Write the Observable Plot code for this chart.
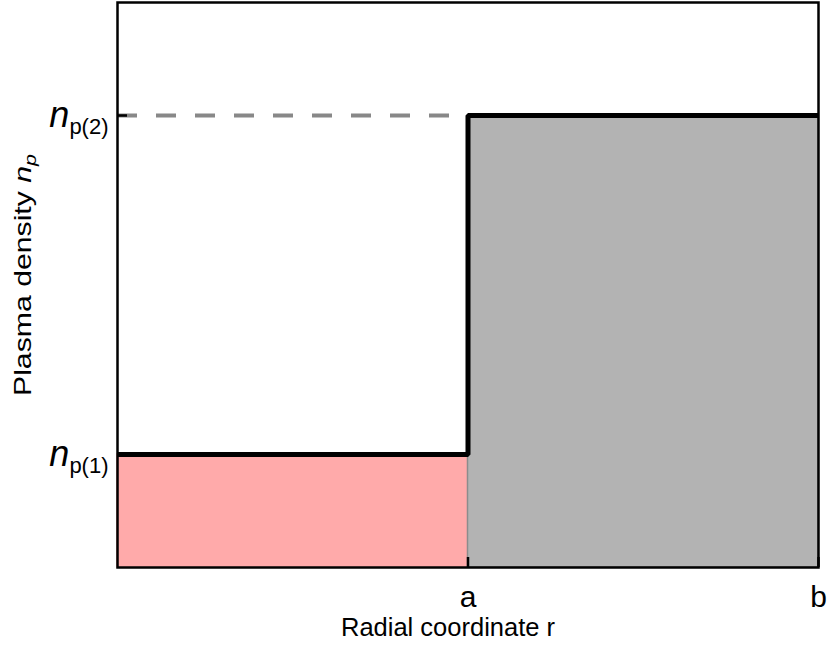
<!DOCTYPE html>
<html>
<head>
<meta charset="utf-8">
<script src="https://cdn.jsdelivr.net/npm/d3@7"></script>
<script src="https://cdn.jsdelivr.net/npm/@observablehq/plot@0.6"></script>
<style>
  html, body { margin: 0; padding: 0; background: white; }
</style>
</head>
<body>
<div id="chart"></div>
<script>
// Data
const regionStart = [0, 0.5];
const regionEnd = [0.5, 1];
const regionDensity = [0.2, 0.8];
const regionFill = ["#ffaaaa", "#b3b3b3"];
const regionStroke = ["#ffaaaa", "#8c8c8c"];

const stepR = [0, 0.5, 1];
const stepN = [0.2, 0.8, 0.8];

const xTickValues = [0.5, 1];
const xTickLabels = ["a", "b"];
const yTickValues = [0.2, 0.8];
const yTickLabels = ["n|p(1)", "n|p(2)"];

const xTitle = "Radial coordinate r";
const yTitle = "Plasma density |n|p";

const regions = regionStart.map((s, i) => ({s, e: regionEnd[i], n: regionDensity[i], fill: regionFill[i], stroke: regionStroke[i]}));
const step = stepR.map((r, i) => ({r, n: stepN[i]}));

const plot = Plot.plot({
  width: 831,
  height: 656,
  marginLeft: 117,
  marginRight: 13,
  marginTop: 2,
  marginBottom: 89,
  x: {domain: [0, 1], axis: null},
  y: {domain: [0, 1], axis: null},
  style: {fontFamily: "'Liberation Sans', Arial, sans-serif", background: "white", color: "black"},
  marks: [
    Plot.rect(regions, {x1: "s", x2: "e", y1: 0, y2: "n", fill: d => d.fill, stroke: d => d.stroke, strokeWidth: 1.5}),
    Plot.ruleY([regionDensity[1]], {x1: regionStart[0], x2: regionEnd[0], stroke: "#888888", strokeWidth: 4, strokeDasharray: "20,19"}),
    Plot.line(step, {x: "r", y: "n", curve: "step-after", stroke: "black", strokeWidth: 5, strokeLinejoin: "miter", strokeLinecap: "butt"}),
    Plot.frame({stroke: "black", strokeWidth: 2.5}),
    Plot.tickX(xTickValues, {x: d => d, stroke: "black", strokeWidth: 2.5, insetTop: 555}),
    Plot.tickY(yTickValues, {y: d => d, stroke: "black", strokeWidth: 2.5, insetRight: 691}),
    Plot.text(xTickValues, {x: d => d, text: (d, i) => xTickLabels[i], frameAnchor: "bottom", lineAnchor: "top", dy: 18, fontSize: 30, fill: "black"}),
    Plot.text(yTickValues, {y: d => d, text: (d, i) => yTickLabels[i], frameAnchor: "left", textAnchor: "end", lineAnchor: "middle", dx: -9, fontSize: 36, fill: "black"}),
    Plot.text([xTitle], {frameAnchor: "bottom", lineAnchor: "middle", dy: 60, dx: -20, fontSize: 25.5, fill: "black"}),
    Plot.text([yTitle], {frameAnchor: "left", lineAnchor: "middle", rotate: -90, dx: -94, dy: -10, fontSize: 24, fill: "black"})
  ]
});

// Rich text formatting (italic n with subscript)
const svgNS = "http://www.w3.org/2000/svg";
plot.querySelectorAll("text").forEach(t => {
  const s = t.textContent;
  if (s.includes("|")) {
    const parts = s.split("|");
    while (t.firstChild) t.removeChild(t.firstChild);
    if (parts.length === 2) {
      const a = document.createElementNS(svgNS, "tspan");
      a.setAttribute("font-style", "italic");
      a.textContent = parts[0];
      const b = document.createElementNS(svgNS, "tspan");
      b.setAttribute("font-size", "22");
      b.setAttribute("dy", "7");
      b.textContent = parts[1];
      t.appendChild(a); t.appendChild(b);
    } else {
      const a = document.createElementNS(svgNS, "tspan");
      a.textContent = parts[0];
      const b = document.createElementNS(svgNS, "tspan");
      b.setAttribute("font-style", "italic");
      b.textContent = parts[1];
      const c = document.createElementNS(svgNS, "tspan");
      c.setAttribute("font-style", "italic");
      c.setAttribute("font-size", "17");
      c.setAttribute("dy", "5");
      c.textContent = parts[2];
      t.appendChild(a); t.appendChild(b); t.appendChild(c);
      const len = 242;
      t.setAttribute("text-anchor", "start");
      t.setAttribute("x", String(-len / 2));
      t.setAttribute("textLength", String(len));
      t.setAttribute("lengthAdjust", "spacingAndGlyphs");
    }
  }
});

document.getElementById("chart").appendChild(plot);
</script>
</body>
</html>
